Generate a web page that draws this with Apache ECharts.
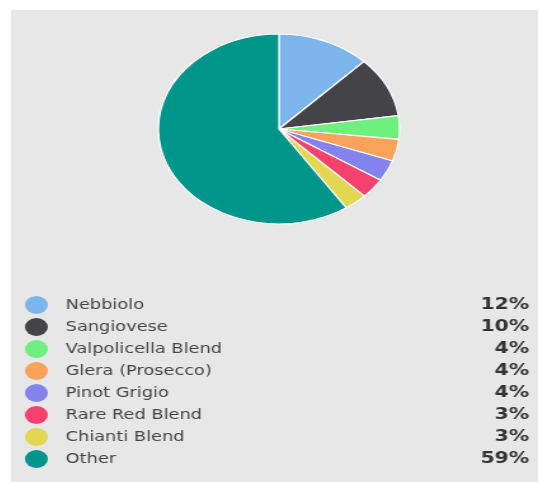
<!DOCTYPE html>
<html>
<head>
<meta charset="utf-8">
<script src="https://cdn.jsdelivr.net/npm/echarts@6/dist/echarts.min.js"></script>
<style>
  html, body { margin: 0; padding: 0; background: #fff; }
  body { width: 540px; height: 482px; position: relative; overflow: hidden; }
  /* the source picture is stretched sideways, so the chart is too */
  #chart { position: absolute; left: 11px; top: 10px; width: 415px; height: 472px;
           transform: scaleX(1.27); transform-origin: 0 0; }
</style>
</head>
<body>
<div id="chart"></div>
<script>
var names = ['Nebbiolo', 'Sangiovese', 'Valpolicella Blend', 'Glera (Prosecco)',
             'Pinot Grigio', 'Rare Red Blend', 'Chianti Blend', 'Other'];
var values = [12.4, 10.3, 4.0, 3.7, 3.6, 3.4, 3.1, 59.3];
var colors = ['#7cb5ec', '#434348', '#6ff07e', '#f9a35a', '#8482ec', '#f5416d', '#e3d650', '#00958a'];

var total = values.reduce(function (a, b) { return a + b; }, 0);

var chart = echarts.init(document.getElementById('chart'));

var option = {
    backgroundColor: '#e7e7e8',
    color: colors,
    animation: false,
    legend: {
        orient: 'vertical',
        left: 6,
        top: 281,
        icon: 'circle',
        itemWidth: 36,
        itemHeight: 18,
        itemGap: 4,
        selectedMode: false,
        itemStyle: { borderWidth: 0 },
        data: names,
        formatter: function (name) {
            var i = names.indexOf(name);
            var pct = Math.round(values[i] / total * 100) + '%';
            return '{n|' + name + '}{p|' + pct + '}';
        },
        textStyle: {
            rich: {
                n: { width: 315, fontSize: 14, color: '#454545', fontFamily: 'DejaVu Sans' },
                p: { width: 50, align: 'right', fontSize: 16, fontWeight: 'bold', color: '#333',
                     fontFamily: 'DejaVu Sans' }
            }
        }
    },
    series: [
        {
            type: 'pie',
            center: [211, 119],
            radius: 95,
            startAngle: 90,
            label: { show: false },
            labelLine: { show: false },
            emphasis: { disabled: true },
            itemStyle: { borderColor: '#ffffff', borderWidth: 1.2 },
            data: names.map(function (n, i) {
                return { name: n, value: values[i] };
            })
        }
    ]
};

chart.setOption(option);
</script>
</body>
</html>
